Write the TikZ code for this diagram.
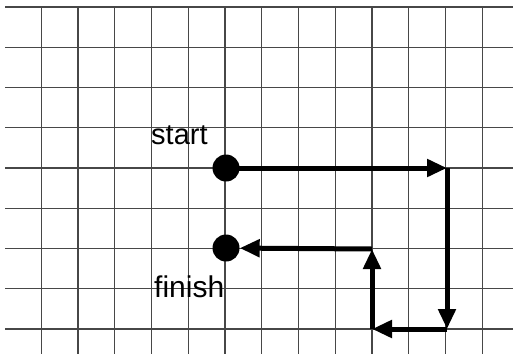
\documentclass[tikz,border=0pt]{standalone}
\usepackage{fontspec}
\setmainfont{Liberation Sans}
\usetikzlibrary{arrows.meta}
\begin{document}
\begin{tikzpicture}[x=1pt,y=-1pt,
  gridline/.style={line width=1.3pt, draw=black!72},
  dot/.style={circle, fill=black, inner sep=0pt, minimum size=27pt},
  path/.style={line width=5pt, -{Triangle[length=20pt,width=17pt]}},
  label/.style={inner sep=0pt, anchor=base west}]
\useasboundingbox (0,0) rectangle (513,354);
\fill[white] (0,0) rectangle (513,354);
\foreach \k in {0,...,12} {\draw[gridline] ({41.3+36.75*\k},7) -- ({41.3+36.75*\k},354);}
\foreach \k in {0,...,8} {\draw[gridline] (5,{7+40.25*\k}) -- (513,{7+40.25*\k});}
\node[dot] (start) at (226,168) {};
\node[dot] (finish) at (226,248) {};
\coordinate (c1) at (447,168);
\coordinate (c2) at (447,329);
\coordinate (c3) at (372,329);
\coordinate (c4) at (372,249);
\draw[path] (start.center) -- (c1);
\draw[path] (c1) -- (c2);
\draw[path] (c2) -- (c3);
\draw[path] (c3) -- (c4);
\draw[path] (c4) -- (finish);
\node[label, font=\fontsize{29}{31}\selectfont] (tstart) at (151,144) {start};
\node[label, font=\fontsize{30}{32}\selectfont] (tfinish) at (154,297) {finish};
\end{tikzpicture}
\end{document}
